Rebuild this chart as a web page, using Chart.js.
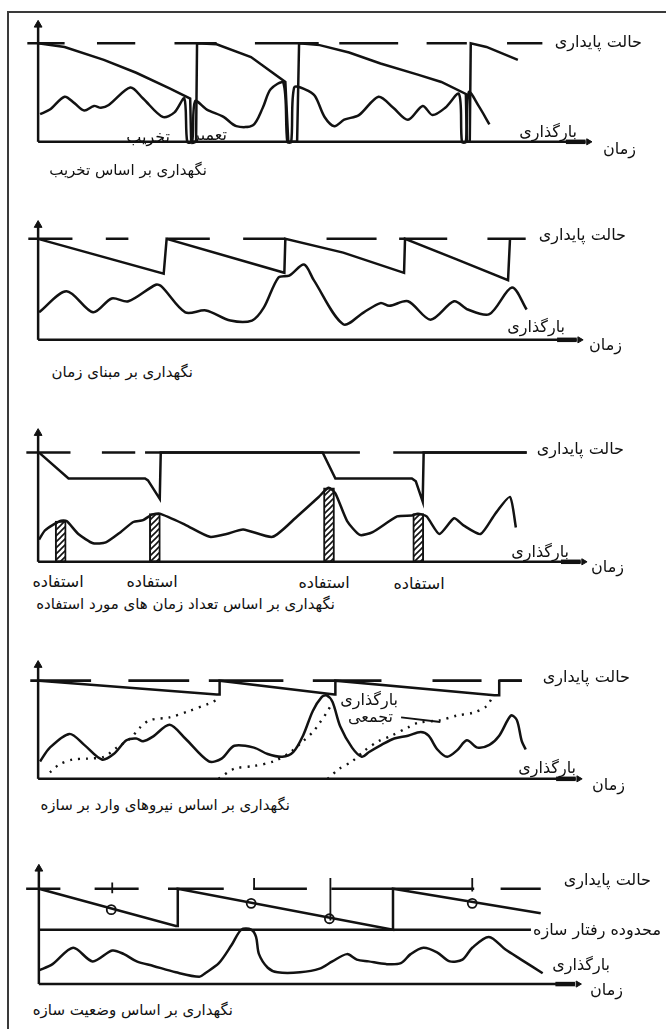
<!DOCTYPE html>
<html><head><meta charset="utf-8">
<script src="https://cdn.jsdelivr.net/npm/chart.js@4.4.1/dist/chart.umd.min.js"></script>
<style>
html,body{margin:0;padding:0;background:#fff;overflow:hidden;width:666px;height:1029px;position:relative}
#frame{position:absolute;left:7px;top:11px;width:720px;height:1100px;border:2px solid #3a3a3a;box-sizing:border-box}
canvas{position:absolute;left:13px}
.t{position:absolute;font-family:"DejaVu Sans","Noto Sans",sans-serif;font-size:16px;line-height:20px;color:#111;white-space:nowrap;direction:rtl}
.cap{font-size:15px}
.c{text-align:center;width:80px}
</style></head><body>
<div id="frame"></div>
<canvas id="p1" width="580" height="139" style="top:12px"></canvas>
<canvas id="p2" width="580" height="134" style="top:215px"></canvas>
<canvas id="p3" width="580" height="148" style="top:423px"></canvas>
<canvas id="p4" width="580" height="133" style="top:655px"></canvas>
<canvas id="p5" width="580" height="136" style="top:858px"></canvas>

<div class="t" style="right:24px;top:32px">حالت پایداری</div>
<div class="t" style="right:89px;top:122px">بارگذاری</div>
<div class="t" style="right:30px;top:139px">زمان</div>
<div class="t" style="right:496px;top:127px">تخریب</div>
<div class="t" style="right:439px;top:125px">تعمیر</div>
<div class="t cap" style="right:459px;top:160px">نگهداری بر اساس تخریب</div>

<div class="t" style="right:40px;top:225px">حالت پایداری</div>
<div class="t" style="right:101px;top:317px">بارگذاری</div>
<div class="t" style="right:44px;top:335px">زمان</div>
<div class="t cap" style="right:473px;top:362px">نگهداری بر مبنای زمان</div>

<div class="t" style="right:42px;top:439px">حالت پایداری</div>
<div class="t" style="right:97px;top:542px">بارگذاری</div>
<div class="t" style="right:42px;top:557px">زمان</div>
<div class="t c" style="left:18px;top:572px">استفاده</div>
<div class="t c" style="left:112px;top:572px">استفاده</div>
<div class="t c" style="left:284px;top:573px">استفاده</div>
<div class="t c" style="left:379px;top:574px">استفاده</div>
<div class="t cap" style="right:331px;top:594px">نگهداری بر اساس تعداد زمان های مورد استفاده</div>

<div class="t" style="right:36px;top:667px">حالت پایداری</div>
<div class="t" style="right:268px;top:690px">بارگذاری</div>
<div class="t" style="right:273px;top:707px">تجمعی</div>
<div class="t" style="right:90px;top:758px">بارگذاری</div>
<div class="t" style="right:41px;top:775px">زمان</div>
<div class="t cap" style="right:376px;top:795px">نگهداری بر اساس نیروهای وارد بر سازه</div>

<div class="t" style="right:15px;top:870px">حالت پایداری</div>
<div class="t" style="right:5px;top:920px">محدوده رفتار سازه</div>
<div class="t" style="right:56px;top:955px">بارگذاری</div>
<div class="t" style="right:43px;top:980px">زمان</div>
<div class="t cap" style="right:433px;top:1000px">نگهداری بر اساس وضعیت سازه</div>

<script>
// ===== DATA (time t, level v) =====
// Panel 1 : maintenance based on failure
const p1SteadyLevel = 107;
const p1SteadyDashes = [[-2.2,5.4],[12,19.8],[27.8,36.4],[44.2,57.2],[61.4,73.4],[79.2,87.4],[95.6,102.8]];
const p1Strength = [[0,107],[5.4,103],[13.4,89],[20,75],[26.8,58],[31,47],[31.2,0],[32.2,0],[32.4,107],[36.4,106],[43.4,92],[50.4,65],[51,0],[52.8,0],[53.2,107],[57.4,105],[63.4,97],[69.8,85],[77.4,73],[82.2,65],[87.2,52],[87.4,0],[88,0],[88.2,107],[91.4,103],[97.8,89]];
const p1Loading = [[0.4,30],[2.4,35],[5.4,49],[7.4,42],[9.4,34],[11.4,39],[12.8,37],[14.4,40],[18.8,59],[21.4,47],[25.4,27],[27.8,32],[29.8,47],[30.4,0],[31.4,0],[32,44],[34.4,35],[37.8,27],[40.4,17],[43.8,18],[45.8,37],[47.4,57],[50,64],[50.8,0],[51.6,0],[52.2,59],[54.4,57],[56.4,50],[58.4,27],[60.4,17],[62.4,24],[65.4,29],[69.4,49],[72.4,37],[75.4,24],[78.4,39],[80.4,29],[83,37],[85.8,52],[86.4,0],[87.2,0],[87.8,54],[89.8,39],[92,19]];

// Panel 2 : time-based maintenance
const p2SteadyLevel = 110;
const p2SteadyDashes = [[-2,7],[13.8,18.4],[26.2,35],[41.8,50.4],[58.8,69],[73.6,83.4],[91.6,99.4]];
const p2Strength = [[0,110],[25.6,72],[26.2,110],[50.2,73],[50.4,110],[62.2,95],[74.6,73],[74.8,110],[85.2,88],[95.8,65],[96.2,110]];
const p2Loading = [[0.2,30],[5.8,53],[11.2,30],[15,45],[18.4,42],[24,60],[25.2,58],[30,30],[34.2,32],[39.2,21],[43.6,21],[46,35],[49,68],[51.2,70],[54.2,82],[56.2,65],[62.2,17],[66.4,30],[69.8,40],[71.6,37],[75.4,42],[80,22],[84.8,42],[87.6,33],[92,28],[96.6,57],[99.6,33]];

// Panel 3 : usage-count maintenance
const p3SteadyLevel = 118;
const p3SteadyDashes = [[-2.4,6.6],[13,19.8],[21.8,65.6],[72.4,99.6]];
const p3Strength = [[0.2,118],[6.2,90],[21.8,90],[22.4,88],[24.8,68],[25,118],[58,118],[60.6,90],[76.2,90],[77,87],[78.4,65],[78.6,118],[99.6,118]];
const p3Loading = [[0.2,24],[1.4,34],[4.4,44],[5.8,44],[8.2,30],[11.2,20],[13.8,21],[16.8,32],[19.4,43],[21.4,45],[23.2,51],[24.8,52],[30,40],[35,27],[38.4,30],[41.8,35],[47.8,27],[52.8,49],[57.2,70],[59.2,80],[60.6,74],[63,44],[65.6,29],[68.2,32],[73.2,49],[76.2,50],[77.4,52],[79.2,49],[81.8,30],[84.8,47],[86.8,39],[90.2,30],[93.2,52],[96.2,70],[97.4,37]];
const p3Usage = [[4.6,44],[23.8,52],[59.3,80],[77.5,52]];

// Panel 4 : load-based maintenance
const p4SteadyLevel = 107;
const p4SteadyDashes = [[-1.6,10.8],[18.4,30.8],[34.8,50],[56,70],[80.4,90.4],[94,98.6]];
const p4Strength = [[0.2,107],[36.4,92],[37,92],[37,107],[60.4,92],[60.6,92],[60.6,107],[93,91],[94,91],[94,107],[98.6,107]];
const p4Loading = [[0.4,19],[2.4,34],[6.4,49],[9.4,37],[13,21],[15.4,27],[18,42],[20,44],[21.4,41],[23.4,46],[26.8,59],[30,44],[34.8,19],[37.4,22],[40,36],[44,34],[46.8,27],[49.8,24],[52,29],[54,47],[56,74],[57.8,89],[58.8,91],[60,84],[61.6,57],[64,34],[66,24],[67.4,29],[70,37],[72.6,44],[75.4,47],[78,51],[79.6,47],[81.4,32],[83.4,24],[85.4,31],[87.4,42],[89.6,34],[92,37],[94,47],[96.4,69],[97.6,64],[98.6,41],[99.4,32]];
const p4Cumulative1 = [[2.4,7],[4.4,16],[7,21],[10,22],[13.4,24],[16,34],[18.8,44],[20.8,56],[22.8,64],[26.8,67],[30.8,74],[34.8,82],[36.8,87]];
const p4Cumulative2 = [[36.8,0],[40,11],[44,14],[48,19],[51.4,29],[54,41],[56,51],[57.4,61],[58.8,72],[59.8,81]];
const p4Cumulative3 = [[59,0],[61.4,11],[64,19],[66.6,31],[69.4,41],[72,47],[75.4,56],[77.4,61],[82,64],[85.4,69],[88.6,72],[91.4,79],[92.6,89]];
const p4Pointer = [[74,67],[82,62]];

// Panel 5 : condition-based maintenance
const p5SteadyLevel = 105;
const p5LimitLevel = 60;
const p5SteadyDashes = [[-2.6,4.4],[11.4,20.4],[26.4,37.8],[43.8,54.8],[59.8,89],[94.4,102.6]];
const p5Limit = [[0,60],[100.6,60]];
const p5Strength = [[0,105],[28,64],[28.4,64],[28.4,105],[72.4,60],[72.4,105],[102.6,78]];
const p5Inspections = [[14.8,82],[43.4,89],[59.4,72],[88.6,89]];
const p5Marks = [[15,100,112],[44,105,117],[59.6,70,117],[88.6,102,117]];
const p5Loading = [[0,15],[2.8,22],[7,40],[11,25],[15,37],[17.4,33],[20,25],[23.4,20],[28,13],[32.8,8],[34,12],[36.8,23],[39.4,43],[41.4,60],[43.4,60],[44.4,52],[45,33],[46.8,18],[48.8,13],[53.4,13],[57.4,17],[60,25],[63,33],[65,27],[67.4,25],[71,22],[74,23],[76,33],[78.6,40],[81.4,35],[84,25],[86.6,27],[88.6,40],[92,52],[95.4,38],[98.6,27],[103,12]];

// axis extents per panel
const axisEnds = {p1:[111.6,127],p2:[109.8,125],p3:[110.6,139],p4:[109.6,124],p5:[109.6,127]};
const yMax = {p1:135,p2:130,p3:144,p4:129,p5:132};

// ===== helpers =====
const INK = '#121212';
const pts = a => a.map(([x,y]) => ({x,y}));
const dashes = (list, lvl) => { const o=[]; list.forEach(([a,b])=>{o.push({x:a,y:lvl},{x:b,y:lvl},{x:b,y:null});}); return o; };
const marks = list => { const o=[]; list.forEach(([x,a,b])=>{o.push({x,y:a},{x,y:b},{x,y:null});}); return o; };
const line = (data, extra={}) => Object.assign({type:'scatter', data, showLine:true, borderColor:INK, backgroundColor:INK, borderWidth:2.5, pointRadius:0, tension:0, clip:false, spanGaps:false}, extra);

function axes(id){
  const [xe, yt] = axisEnds[id];
  return [
    line(pts([[0,0],[xe,0]])),
    line(pts([[0,0],[0,yt]])),
    line(pts([[xe-4,0],[xe,0]]), {borderWidth:4.5}),
    {type:'scatter', data:pts([[0,yt]]), pointStyle:'triangle', pointRadius:4.5, backgroundColor:INK, borderColor:INK, clip:false},
    {type:'scatter', data:pts([[xe+0.6,0]]), pointStyle:'triangle', rotation:90, pointRadius:3.5, backgroundColor:INK, borderColor:INK, clip:false}
  ];
}

function make(id, datasets){
  new Chart(document.getElementById(id), {
    type:'scatter',
    data:{datasets: datasets.concat(axes(id))},
    options:{
      responsive:false, animation:false, events:[],
      layout:{padding:0},
      plugins:{legend:{display:false}, tooltip:{enabled:false}},
      scales:{
        x:{type:'linear', min:-4, max:112, display:false, offset:false, grid:{offset:false}},
        y:{type:'linear', min:-4, max:yMax[id], display:false, offset:false}
      }
    }
  });
}

// hatch pattern for usage bars
function hatch(){
  const c=document.createElement('canvas'); c.width=6; c.height=6;
  const g=c.getContext('2d'); g.fillStyle='#fff'; g.fillRect(0,0,6,6);
  g.strokeStyle=INK; g.lineWidth=1.6;
  g.beginPath(); g.moveTo(0,6); g.lineTo(6,0); g.moveTo(-3,3); g.lineTo(3,-3); g.moveTo(3,9); g.lineTo(9,3); g.stroke();
  return g.createPattern(c,'repeat');
}

make('p1', [
  line(dashes(p1SteadyDashes, p1SteadyLevel)),
  line(pts(p1Strength)),
  line(pts(p1Loading), {tension:0.3})
]);
make('p2', [
  line(dashes(p2SteadyDashes, p2SteadyLevel)),
  line(pts(p2Strength)),
  line(pts(p2Loading), {tension:0.3})
]);
make('p3', [
  line(dashes(p3SteadyDashes, p3SteadyLevel)),
  line(pts(p3Strength)),
  line(pts(p3Loading), {tension:0.2}),
  {type:'bar', data:pts(p3Usage), backgroundColor:hatch(), borderColor:INK, borderWidth:2, barThickness:11, borderSkipped:false}
]);
make('p4', [
  line(dashes(p4SteadyDashes, p4SteadyLevel), {borderWidth:2.8}),
  line(pts(p4Strength)),
  line(pts(p4Loading), {tension:0.3}),
  line(pts(p4Cumulative1), {borderDash:[2,6], borderWidth:2.4, tension:0.3}),
  line(pts(p4Cumulative2), {borderDash:[2,6], borderWidth:2.4, tension:0.3}),
  line(pts(p4Cumulative3), {borderDash:[2,6], borderWidth:2.4, tension:0.3}),
  line(pts(p4Pointer), {borderWidth:2})
]);
make('p5', [
  line(dashes(p5SteadyDashes, p5SteadyLevel)),
  line(pts(p5Limit)),
  line(pts(p5Strength)),
  line(marks(p5Marks), {borderWidth:1.8}),
  {type:'scatter', data:pts(p5Inspections), pointStyle:'circle', pointRadius:4.5, backgroundColor:'#fff', borderColor:INK, borderWidth:1.8, clip:false},
  line(pts(p5Loading), {tension:0.3})
]);
</script>
</body></html>
